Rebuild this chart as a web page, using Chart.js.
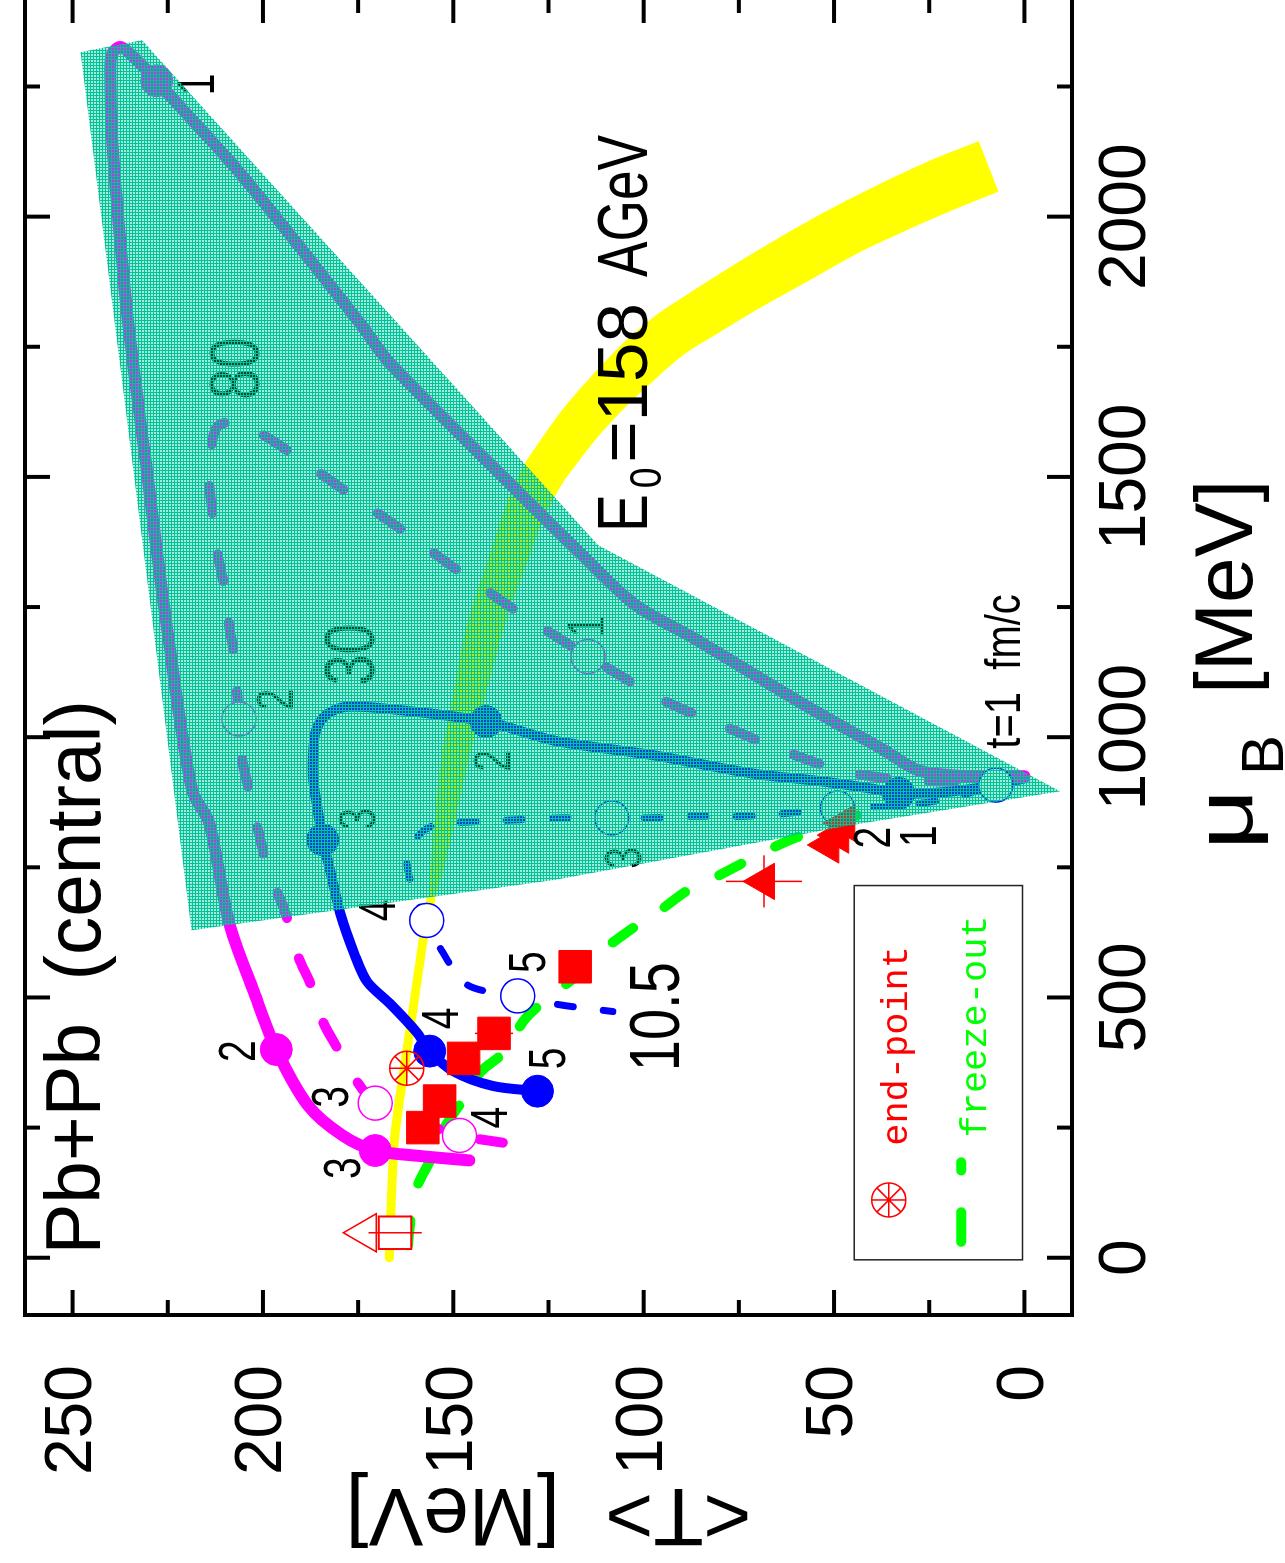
<!DOCTYPE html>
<html>
<head>
<meta charset="utf-8">
<title>Pb+Pb (central): T - muB trajectories</title>
<script src="https://cdn.jsdelivr.net/npm/chart.js@4.4.1/dist/chart.umd.min.js"></script>
<style>
  html, body { margin:0; padding:0; background:#fff; overflow:hidden; width:1285px; height:1563px; }
  /* the plot is laid out landscape and turned a quarter turn counter-clockwise */
  #frame { position:absolute; left:0; top:0; width:1590px; height:1285px;
           transform-origin:0 0; transform:translate(0px,1563px) rotate(-90deg); }
  #c { display:block; }
</style>
</head>
<body>
<div id="frame"><canvas id="c" width="1590" height="1285"></canvas></div>
<script>
// ---------- axes ----------
const muRange = [-110, 2420];          // baryon chemical potential, MeV
const tRange = [-12.5, 262.5];         // mean temperature, MeV
const muMajorTicks = [0, 500, 1000, 1500, 2000];
const muMinorTicks = [250, 750, 1250, 1750, 2250];
const tMajorTicks = [0, 50, 100, 150, 200, 250];
const tMinorTicks = [25, 75, 125, 175, 225];

// ---------- trajectories of the central cell, [muB, T] ----------
const traj158 = [[925,0],[925,14.8],[936,27.8],[974,36.6],[1064,58.2],[1190,86.8],[1255,102.4],[1354,116.7],
  [1470,132.8],[1718,166.6],[1794,174.4],[2080,205.6],[2233,224.5],[2261,227.9],[2313,234.9],[2326,237.5],
  [2313,239.6],[2284,240.1],[2145,239.6],[1954,237.5],[1794,235.4],[1541,231.0],[1216,225.3],[898,218.6],
  [835,214.1],[644,208.9],[511,202.4],[400,196.5],[292,188.1],[235,179.1],[206,170.5],[196,159.6],[187,145.8]];
const traj80 = [[921,0],[915,21.8],[930,44.7],[969,61.6],[1020,78.5],[1070,94.6],[1136,110.2],[1155,114.6],
  [1241,133.1],[1318,148.4],[1394,162.7],[1470,177.8],[1546,192.6],[1583,200.6],[1605,208.4],[1596,212.1],
  [1554,213.6],[1489,214.1],[1420,213.1],[1359,212.1],[1289,210.2],[1216,208.9],[1155,207.6],[1035,206.3],
  [965,205.6],[898,203.7],[816,201.1],[740,198.5],[673,194.6],[578,190.7],[524,187.4],[454,184.3],[402,180.4],
  [345,175.9],[297,170.5],[263,159.6],[235,148.4],[221,137.0]];
const traj30 = [[921,0],[906,9],[894,22],[892,33.0],[901,40],[915,53.0],[930,71.2],[965,97.2],[993,123.2],
  [1030,141.4],[1054,166.6],[1058,178.5],[1041,183.7],[1007,186.3],[930,186.9],[860,185.6],[803,184.3],
  [740,182.2],[664,179.8],[582,175.9],[530,172.6],[488,166.6],[433,159.6],[397,156.2],[358,149.9],[330,139.6],[320,127.9]];
const traj10 = [[921,0],[908,7.5],[883,19.2],[869,32.2],[864,49.1],[854,62.1],[848,73.8],[848,86.8],[845,98.5],
  [845,108.4],[845,121.4],[841,134.1],[837,146.0],[831,155.1],[807,159.6],[759,162.2],[688,159.6],[648,157.0],
  [593,153.3],[524,146.3],[503,133.1],[486,122.1],[473,108.1]];

// marked time steps (t = 1, 2, 3 ... fm/c)
const steps158 = [[2261,227.9],[400,196.5],[206,170.5]];
const steps80 = [[1155,114.6],[1035,206.3],[297,170.5],[235,148.4]];
const steps30 = [[892,33.0],[1030,141.4],[803,184.3],[397,156.2],[320,127.9]];
const steps10 = [[908,7.5],[864,49.1],[845,108.4],[648,157.0],[503,133.1]];

// freeze-out curve of the statistical model (band, then its thin continuation)
const bandUpper = [[2145,12.0],[2109,24.4],[2065,37.4],[2017,50.4],[1964,63.4],[1907,76.4],[1859,86.8],
  [1811,96.7],[1760,105.0],[1701,112.8],[1636,120.6],[1579,126.3],[1522,131.5],[1445,136.2],[1359,140.1],
  [1274,144.0],[1197,147.1],[1083,150.0],[963,153.1],[772,155.7],[688,156.4]];
const bandLower = [[2048,6.8],[2012,19.0],[1973,31.2],[1930,43.7],[1878,56.4],[1825,69.4],[1779,79.8],
  [1737,89.1],[1693,96.2],[1640,104.0],[1579,111.8],[1529,117.2],[1481,121.9],[1415,126.6],[1337,130.5],
  [1253,134.9],[1178,138.0],[1072,141.9],[955,146.1],[768,151.8],[686,155.2]];
const bandTail = [[688,155.9],[620,157.7],[492,160.3],[364,162.9],[238,165.3],[143,166.1],[0,166.8]];

// freeze-out points of the model
const freezeOut = [[850,43.9],[824,53.0],[805,60.8],[774,69.9],[736,79.8],[705,88.6],[669,95.4],[629,103.7],
  [593,110.2],[564,113.6],[507,123.7],[460,131.0],[393,137.0],[358,142.7],[307,147.1],[248,152.5],[193,155.7],
  [126,160.1],[63,161.4],[0,162.2]];

// mixed-phase region
const mixedPhase = [[2316,247.9],[2339,231.8],[1369,112.0],[896,-9.4],[831,45.5],[726,123.2],[629,218.8]];

// data points
const dataSquares = [[383,147.3],[431,139.3],[301,153.6],[250,158.0],[559,118.0]];
const dataTriangles = [[723,68.4],[793,51.5],[812,48.9],[835,47.3]];
const openSquare = [[48,165.3]];
const openTriangle = [[48,173.1]];
const endPoint = [[364,162.2]];
// [muB, T, dMuB, dT]
const errorBars = [[723,68.4,50,10],[48,165.3,0,7],[431,139.3,0,5]];

// labels of the time steps and the beam energies, [text, muB, T]
const stepLabels = [['1',2254,216.7],['2',397,205.8],['3',172,178.3],
  ['1',1213,114.1],['2',1072,195.9],['3',309,181.4],['4',269,139.6],
  ['1',810,27.0],['2',955,138.8],['3',843,174.4],['4',460,152.5],['5',383,124.5],
  ['2',807,39.0],['3',768,104.5],['4',667,169.2],['5',568,129.7]];
const energyLabels = [['80',1708,206.1],['30',1159,175.9],['10.5',463,95.9]];

// ---------- fonts ----------
function fontPresent(name) {
  const g = document.createElement('canvas').getContext('2d');
  g.font = '40px monospace';
  const a = g.measureText('0123456789MeV').width;
  g.font = '40px "' + name + '", monospace';
  return Math.abs(g.measureText('0123456789MeV').width - a) > 0.5;
}
const narrow = fontPresent('Liberation Sans Narrow');
const tickFont = narrow ? {family:'"Liberation Sans Narrow"', size:70} : {family:'"Liberation Sans"', size:66};
const SANS = '"Liberation Sans", Arial, sans-serif';
const MONO = '"Liberation Mono", "DejaVu Sans Mono", monospace';
Chart.defaults.font.family = SANS;

// ---------- helpers ----------
const xy = arr => arr.map(([x, y]) => ({x, y}));
const canvas = document.getElementById('c');
const ctx0 = canvas.getContext('2d');

// fine mesh used for the mixed-phase region: solid 1 px teal grid, half-tinted cells
function meshPattern() {
  const t = document.createElement('canvas');
  t.width = 3; t.height = 3;
  const g = t.getContext('2d');
  g.fillStyle = 'rgba(0,195,152,0.35)';
  g.fillRect(1, 1, 2, 2);
  g.fillStyle = 'rgb(0,195,152)';
  g.fillRect(0, 0, 3, 1);
  g.fillRect(0, 1, 1, 2);
  return ctx0.createPattern(t, 'repeat');
}

const MAG = '#ff00ff', BLUE = '#0000ff', RED = '#ff0000', GREEN = '#00ff00', YEL = '#ffff00';

function lineSet(data, color, width, dash, order) {
  return {data: xy(data), borderColor: color, borderWidth: width, borderDash: dash || [],
    borderCapStyle: 'round', borderJoinStyle: 'round', pointRadius: 0, fill: false,
    tension: 0.3, order};
}
function markSet(data, style, radius, fillCol, lineCol, lw, order, key) {
  return {data: xy(data), showLine: false, pointStyle: style, pointRadius: radius,
    pointBackgroundColor: fillCol, pointBorderColor: lineCol, pointBorderWidth: lw, order, key};
}

const datasets = [
  {data: xy(bandUpper.concat(bandLower.slice().reverse())), fill: 'shape', backgroundColor: YEL,
    borderWidth: 0, pointRadius: 0, tension: 0.3, order: 100},
  lineSet(bandTail, YEL, 9, null, 99),
  lineSet(freezeOut, GREEN, 10, [25, 38], 90),
  lineSet(traj10, BLUE, 7, [16, 30], 80),
  lineSet(traj30, BLUE, 10, null, 79),
  lineSet(traj80, MAG, 10, [27, 42], 78),
  lineSet(traj158, MAG, 12, null, 77),
  markSet(steps158, 'circle', 16, MAG, MAG, 1, 70),
  markSet(steps80, 'circle', 17, '#ffffff', MAG, 1.5, 69),
  markSet(steps30, 'circle', 16, BLUE, BLUE, 1, 68),
  markSet(steps10, 'circle', 17, '#ffffff', BLUE, 1.5, 67),
  markSet(dataTriangles, 'triangle', 21, RED, RED, 1, 60),
  markSet(dataSquares, 'rect', 23, RED, RED, 1, 59),
  markSet(openSquare, 'rect', 23, '#ffffff', RED, 2, 58),
  markSet(openTriangle, 'triangle', 22, 'rgba(0,0,0,0)', RED, 1.5, 57),
  markSet(endPoint, 'circle', 17, 'rgba(0,0,0,0)', RED, 1.5, 56),
  markSet(endPoint, 'star', 17, 'rgba(0,0,0,0)', RED, 1.5, 55, 'lastMark'),
  {data: xy(mixedPhase), fill: 'shape', backgroundColor: meshPattern(), borderWidth: 0,
    pointRadius: 0, tension: 0, order: 0}
];

function putText(ctx, str, px, py, o) {
  ctx.save();
  ctx.font = o.font;
  ctx.fillStyle = o.color || '#000';
  ctx.textAlign = o.align || 'center';
  ctx.textBaseline = o.base || 'middle';
  ctx.translate(px, py);
  ctx.scale(o.sx || 1, 1);
  ctx.fillText(str, 0, 0);
  ctx.restore();
}

// texts and error bars sit under the mixed-phase mesh
function drawAnnotations(chart) {
  const {ctx, scales: {x, y}} = chart;
  const X = v => x.getPixelForValue(v), Y = v => y.getPixelForValue(v);
  ctx.save();
  ctx.strokeStyle = RED; ctx.lineWidth = 1.5;
  errorBars.forEach(([m, t, dm, dt]) => {
    ctx.beginPath();
    if (dm) { ctx.moveTo(X(m - dm), Y(t)); ctx.lineTo(X(m + dm), Y(t)); }
    if (dt) { ctx.moveTo(X(m), Y(t - dt)); ctx.lineTo(X(m), Y(t + dt)); }
    ctx.stroke();
  });
  ctx.restore();
  stepLabels.forEach(([s, m, t]) => putText(ctx, s, X(m), Y(t), {font: '52px ' + SANS, sx: 0.75}));
  energyLabels.forEach(([s, m, t]) => putText(ctx, s, X(m), Y(t), {font: '70px ' + SANS, sx: 0.8}));
  putText(ctx, 'Pb+Pb  (central)', X(6), Y(248.4), {font: '78px ' + SANS, align: 'left', sx: 0.98});
  putText(ctx, 'E', X(1394), Y(99), {font: '71px ' + SANS, align: 'left', base: 'alphabetic', sx: 0.8});
  putText(ctx, '0', X(1478), Y(95.4), {font: '44px ' + SANS, align: 'left', base: 'alphabetic', sx: 0.85});
  putText(ctx, '=158', X(1527), Y(99), {font: '71px ' + SANS, align: 'left', base: 'alphabetic'});
  putText(ctx, 'AGeV', X(1884), Y(99), {font: '71px ' + SANS, align: 'left', base: 'alphabetic', sx: 0.75});
  putText(ctx, 't=1  fm/c', X(978), Y(4.9), {font: '50px ' + SANS, align: 'left', sx: 0.8});
}

// legend panel
const legendMu = [-4, 715];
const legendT = [0.5, 44.7];
function drawLegend(chart) {
  const {ctx, scales: {x, y}} = chart;
  const X = v => x.getPixelForValue(v), Y = v => y.getPixelForValue(v);
  ctx.save();
  ctx.strokeStyle = '#222'; ctx.lineWidth = 1.5;
  ctx.strokeRect(X(legendMu[0]), Y(legendT[1]), X(legendMu[1]) - X(legendMu[0]), Y(legendT[0]) - Y(legendT[1]));
  // end-point symbol
  const cx = X(111), cy = Y(35.6), r = 17;
  ctx.strokeStyle = RED; ctx.lineWidth = 1.5;
  ctx.beginPath(); ctx.arc(cx, cy, r, 0, Math.PI * 2); ctx.stroke();
  ctx.beginPath();
  for (let k = 0; k < 4; k++) {
    const a = k * Math.PI / 4;
    ctx.moveTo(cx + r * Math.cos(a), cy + r * Math.sin(a));
    ctx.lineTo(cx - r * Math.cos(a), cy - r * Math.sin(a));
  }
  ctx.stroke();
  // freeze-out sample
  ctx.strokeStyle = GREEN; ctx.lineWidth = 10; ctx.lineCap = 'round';
  const ly = Y(16.6);
  ctx.beginPath();
  ctx.moveTo(X(21) + 5, ly); ctx.lineTo(X(97) - 5, ly);
  ctx.moveTo(X(158) + 5, ly); ctx.lineTo(X(193) - 5, ly);
  ctx.stroke();
  ctx.restore();
  putText(ctx, 'end-point', X(215), Y(30.9), {font: '37px ' + MONO, color: RED, align: 'left', base: 'alphabetic'});
  putText(ctx, 'freeze-out', X(231), Y(10.1), {font: '37px ' + MONO, color: GREEN, align: 'left', base: 'alphabetic'});
}

// closed frame with inward ticks on all four sides
function drawFrame(chart) {
  const {ctx, chartArea: a, scales: {x, y}} = chart;
  ctx.save();
  ctx.strokeStyle = '#000'; ctx.lineWidth = 4; ctx.lineCap = 'butt';
  ctx.strokeRect(a.left, a.top, a.right - a.left, a.bottom - a.top);
  const tick = (px, py, dx, dy) => { ctx.beginPath(); ctx.moveTo(px, py); ctx.lineTo(px + dx, py + dy); ctx.stroke(); };
  [[muMajorTicks, 25], [muMinorTicks, 15]].forEach(([vals, len]) => vals.forEach(v => {
    const px = x.getPixelForValue(v);
    tick(px, a.bottom, 0, -len); tick(px, a.top, 0, len);
  }));
  [[tMajorTicks, 25], [tMinorTicks, 15]].forEach(([vals, len]) => vals.forEach(v => {
    const py = y.getPixelForValue(v);
    tick(a.left, py, len, 0); tick(a.right, py, -len, 0);
  }));
  ctx.restore();
  // muB axis title with subscript
  const base = a.bottom + 180;
  let u = a.left + 465;
  putText(ctx, '\u03bc', u, base, {font: '82px ' + SANS, align: 'left', base: 'alphabetic', sx: 1.3});
  putText(ctx, 'B', u + 75, base + 31, {font: '60px ' + SANS, align: 'left', base: 'alphabetic'});
  putText(ctx, '[MeV]', u + 156, base, {font: '82px ' + SANS, align: 'left', base: 'alphabetic'});
}

const decor = {
  id: 'decor',
  afterDatasetDraw(chart, args) {
    if (chart.data.datasets[args.index].key === 'lastMark') drawAnnotations(chart);
  },
  afterDraw(chart) { drawFrame(chart); drawLegend(chart); }
};

new Chart(canvas, {
  type: 'line',
  data: {datasets},
  options: {
    responsive: false, animation: false, devicePixelRatio: 1, events: [],
    layout: {padding: {left: 0, top: 14, right: 16, bottom: 0}},
    plugins: {legend: {display: false}, tooltip: {enabled: false}},
    scales: {
      x: {
        type: 'linear', position: 'bottom', min: muRange[0], max: muRange[1],
        grid: {display: false, drawTicks: false}, border: {display: false},
        afterBuildTicks: s => { s.ticks = muMajorTicks.map(v => ({value: v})); },
        afterFit: s => { s.height = 213; s.paddingLeft = 0; s.paddingRight = 0; },
        ticks: {font: tickFont, color: '#000', padding: 15, autoSkip: false, maxRotation: 0, callback: v => String(v)}
      },
      y: {
        type: 'linear', position: 'left', min: tRange[0], max: tRange[1],
        grid: {display: false, drawTicks: false}, border: {display: false},
        afterBuildTicks: s => { s.ticks = tMajorTicks.map(v => ({value: v})); },
        afterFit: s => { s.width = 248; s.paddingTop = 0; s.paddingBottom = 0; },
        ticks: {font: tickFont, color: '#000', padding: 50, autoSkip: false, callback: v => String(v)},
        title: {display: true, text: '<T>  [MeV]', color: '#000', font: {family: SANS, size: 82}, padding: {top: 2, bottom: 0}}
      }
    }
  },
  plugins: [decor]
});
</script>
</body>
</html>
